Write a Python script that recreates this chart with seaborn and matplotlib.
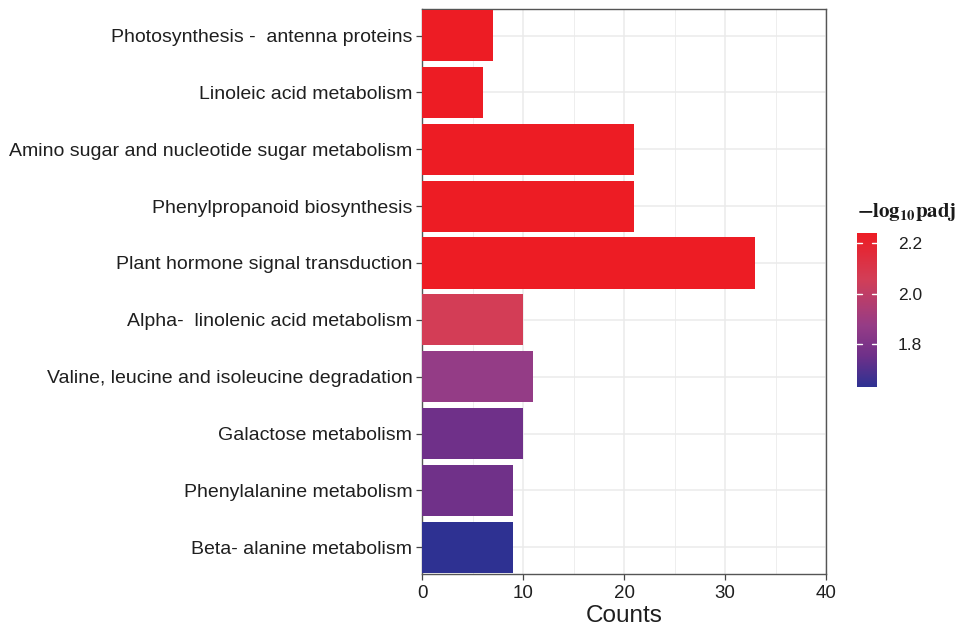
import numpy as np
import pandas as pd
import matplotlib
matplotlib.use("Agg")
import matplotlib.pyplot as plt
import matplotlib.colors as mcolors
import matplotlib.cm as cm
import seaborn as sns

pathways = [
    "Photosynthesis -  antenna proteins",
    "Linoleic acid metabolism",
    "Amino sugar and nucleotide sugar metabolism",
    "Phenylpropanoid biosynthesis",
    "Plant hormone signal transduction",
    "Alpha-  linolenic acid metabolism",
    "Valine, leucine and isoleucine degradation",
    "Galactose metabolism",
    "Phenylalanine metabolism",
    "Beta- alanine metabolism",
]
counts = [7, 6, 21, 21, 33, 10, 11, 10, 9, 9]
neg_log_padj = [2.24, 2.24, 2.24, 2.24, 2.24, 2.06, 1.87, 1.755, 1.76, 1.63]
x_ticks = [0, 10, 20, 30, 40]
cbar_ticks = [1.8, 2.0, 2.2]

# blue -> purple -> red fill gradient
cmap = mcolors.LinearSegmentedColormap.from_list(
    "padj",
    [(0.0, "#2E3192"), (0.2, "#6E3089"), (0.4, "#963C86"),
     (0.7, "#D23E57"), (1.0, "#ED1C24")],
)

vmin, vmax = min(neg_log_padj), max(neg_log_padj)
norm = mcolors.Normalize(vmin=vmin, vmax=vmax)

df = pd.DataFrame({"pathway": pathways, "count": counts, "padj": neg_log_padj})
palette = {p: cmap(norm(v)) for p, v in zip(pathways, neg_log_padj)}

sns.set_theme(style="white")
plt.rcParams["font.family"] = ["Liberation Sans", "DejaVu Sans"]
plt.rcParams["mathtext.fontset"] = "stix"

fig = plt.figure(figsize=(9.62, 6.28), dpi=100)
ax = fig.add_axes([0.4387, 0.086, 0.42, 0.9])

sns.barplot(data=df, x="count", y="pathway", hue="pathway", palette=palette,
            legend=False, width=0.9, saturation=1, linewidth=0, ax=ax, zorder=3)

ax.set_xlim(0, 40)
ax.set_ylim(len(pathways) - 0.53, -0.47)
ax.set_xticks(x_ticks)
ax.set_xticks([5, 15, 25, 35], minor=True)
ax.grid(True, which="major", color="#ebebeb", linewidth=1.1, zorder=0)
ax.grid(True, which="minor", axis="x", color="#ebebeb", linewidth=0.6, zorder=0)
ax.set_axisbelow(True)
for s in ax.spines.values():
    s.set_color("#555555")
    s.set_linewidth(1.0)
    s.set_visible(True)

ax.tick_params(axis="both", which="major", length=4, width=0.9, color="#444444",
               labelsize=14, labelcolor="#1f1f1f", pad=3, left=True, bottom=True)
ax.tick_params(axis="x", which="minor", length=0)
ax.tick_params(axis="x", which="major", labelsize=13.5, pad=4)
ax.set_ylabel("")
ax.set_xlabel("Counts", fontsize=17.5, color="#1f1f1f", labelpad=2)

# colour bar
cax = fig.add_axes([0.8909, 0.384, 0.0208, 0.245])
sm = cm.ScalarMappable(norm=norm, cmap=cmap)
cb = fig.colorbar(sm, cax=cax, ticks=cbar_ticks)
cb.outline.set_visible(False)
cb.ax.tick_params(length=0, labelsize=12.5, labelcolor="#1f1f1f", pad=15)
cb.ax.set_yticklabels([f"{t:.1f}" for t in cbar_ticks])
for t in cbar_ticks:
    cax.plot([0, 0.25], [t, t], color="white", lw=1.0, transform=cax.get_yaxis_transform())
    cax.plot([0.75, 1], [t, t], color="white", lw=1.0, transform=cax.get_yaxis_transform())

fig.text(0.891, 0.645, r"$\mathbf{-log_{10}padj}$", fontsize=15, color="#1a1a1a",
         ha="left", va="bottom")

fig.savefig("out.png", dpi=100, facecolor="white")
